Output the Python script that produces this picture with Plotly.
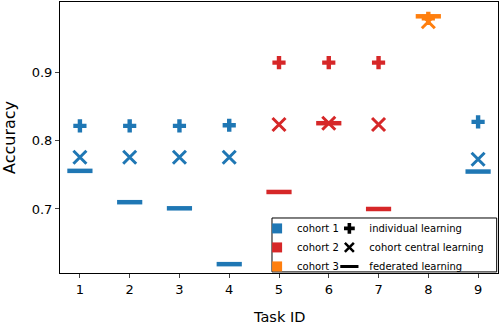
import plotly.graph_objects as go

# values
tasks = [1, 2, 3, 4, 5, 6, 7, 8, 9]
cohort_of_task = [1, 1, 1, 1, 2, 2, 2, 3, 1]
individual = [0.822, 0.822, 0.822, 0.823, 0.915, 0.915, 0.915, 0.980, 0.828]
central = [0.776, 0.776, 0.776, 0.776, 0.824, 0.826, 0.824, 0.975, 0.773]
federated = [0.756, 0.710, 0.701, 0.619, 0.725, 0.826, 0.700, 0.983, 0.755]

cohort_names = ["cohort 1", "cohort 2", "cohort 3"]
cohort_colors = {1: "#1f77b4", 2: "#d62728", 3: "#ff7f0e"}
colors = [cohort_colors[c] for c in cohort_of_task]

fig = go.Figure()

# individual learning (filled plus)
fig.add_trace(go.Scatter(
    x=tasks, y=individual, mode="markers",
    marker=dict(symbol="cross", size=11, color=colors, line=dict(width=0)),
    showlegend=False
))

# cohort central learning (x)
fig.add_trace(go.Scatter(
    x=tasks, y=central, mode="markers",
    marker=dict(symbol="x-thin", size=13, color=colors,
                line=dict(width=3, color=colors)),
    showlegend=False
))

# federated learning (dash)
fig.add_trace(go.Scatter(
    x=tasks, y=federated, mode="markers",
    marker=dict(symbol="line-ew", size=18, color=colors,
                line=dict(width=4.5, color=colors)),
    showlegend=False
))

# legend entries: cohorts
for i, name in enumerate(cohort_names):
    fig.add_trace(go.Scatter(
        x=[None], y=[None], mode="markers", name=name,
        marker=dict(symbol="square", size=10, color=cohort_colors[i + 1]),
        legend="legend"
    ))

# legend entries: methods
fig.add_trace(go.Scatter(
    x=[None], y=[None], mode="markers", name="individual learning",
    marker=dict(symbol="cross", size=9, color="black"), legend="legend2"
))
fig.add_trace(go.Scatter(
    x=[None], y=[None], mode="markers", name="cohort central learning",
    marker=dict(symbol="x-thin", size=9, color="black",
                line=dict(width=2.5, color="black")), legend="legend2"
))
fig.add_trace(go.Scatter(
    x=[None], y=[None], mode="markers", name="federated learning",
    marker=dict(symbol="line-ew", size=13, color="black",
                line=dict(width=3, color="black")), legend="legend2"
))

# box around both legends
fig.add_shape(type="rect", xref="paper", yref="paper",
              x0=0.484, x1=0.997, y0=0.004, y1=0.203,
              line=dict(color="black", width=1), fillcolor="white", layer="below")

# x axis title sits partly below the page edge, as in the original
fig.add_annotation(text="Task ID", xref="paper", yref="paper",
                   x=0.5, y=-0.125, xanchor="center", yanchor="top",
                   showarrow=False, font=dict(size=14.5))

leg_common = dict(font=dict(size=10, family="DejaVu Sans", color="black"),
                  bgcolor="rgba(0,0,0,0)", borderwidth=0,
                  tracegroupgap=0, itemwidth=30,
                  yanchor="top", y=0.218, xanchor="left")

fig.update_layout(
    width=500, height=322,
    margin=dict(l=60, r=2, t=2, b=49, autoexpand=False),
    paper_bgcolor="white", plot_bgcolor="white",
    font=dict(family="DejaVu Sans", size=13, color="black"),
    legend=dict(x=0.45, **leg_common),
    legend2=dict(x=0.615, **leg_common),
    xaxis=dict(
        range=[0.6, 9.4], tickvals=tasks, ticks="outside", ticklen=4,
        showline=True, linecolor="black", linewidth=1, mirror=True,
        showgrid=False, zeroline=False,
    ),
    yaxis=dict(
        range=[0.606, 1.004], tickvals=[0.7, 0.8, 0.9], ticktext=["0.7", "0.8", "0.9"],
        ticks="outside", ticklen=4,
        showline=True, linecolor="black", linewidth=1, mirror=True,
        showgrid=False, zeroline=False,
        title=dict(text="Accuracy", standoff=14),
    ),
)

fig.write_html("out.html", config={"displayModeBar": False},
               post_script="document.body.style.margin='0';")
